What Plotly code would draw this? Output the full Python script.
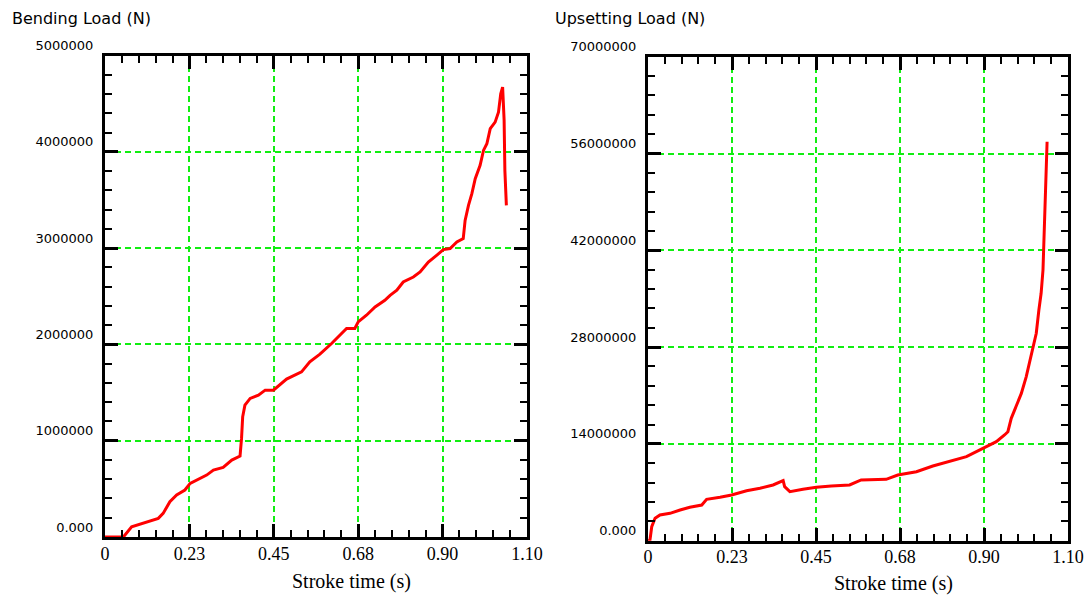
import plotly.graph_objects as go

# Bending load vs stroke time
bend_time = [0, 0.049, 0.071, 0.098, 0.12, 0.142, 0.155, 0.173, 0.191, 0.213,
             0.227, 0.249, 0.271, 0.289, 0.315, 0.338, 0.36, 0.364, 0.367, 0.373,
             0.387, 0.409, 0.427, 0.449, 0.466, 0.484, 0.524, 0.546, 0.573, 0.604,
             0.644, 0.666, 0.675, 0.697, 0.72, 0.746, 0.76, 0.778, 0.795, 0.822,
             0.84, 0.862, 0.884, 0.902, 0.92, 0.938, 0.955, 0.96, 0.969, 0.978,
             0.987, 1.0, 1.009, 1.018, 1.027, 1.04, 1.049, 1.055, 1.06, 1.064,
             1.066, 1.07]
bend_load = [0, 0, 107e3, 142e3, 166e3, 194e3, 245e3, 366e3, 436e3, 488e3,
             557e3, 598e3, 643e3, 695e3, 723e3, 799e3, 840e3, 1024e3, 1248e3, 1369e3,
             1439e3, 1473e3, 1525e3, 1525e3, 1577e3, 1640e3, 1715e3, 1819e3, 1898e3, 2009e3,
             2165e3, 2165e3, 2234e3, 2303e3, 2389e3, 2458e3, 2510e3, 2562e3, 2648e3, 2700e3,
             2752e3, 2856e3, 2925e3, 2984e3, 2995e3, 3063e3, 3098e3, 3288e3, 3444e3, 3565e3,
             3721e3, 3859e3, 4014e3, 4084e3, 4240e3, 4308e3, 4412e3, 4603e3, 4671e3, 4326e3,
             3807e3, 3444e3]

# Upsetting load vs stroke time
upset_time = [0, 0.005, 0.01, 0.019, 0.032, 0.059, 0.086, 0.112, 0.144, 0.157,
              0.193, 0.224, 0.264, 0.3, 0.335, 0.362, 0.366, 0.38, 0.415, 0.451,
              0.491, 0.54, 0.571, 0.638, 0.669, 0.719, 0.763, 0.808, 0.853, 0.897,
              0.933, 0.955, 0.964, 0.973, 0.986, 1.0, 1.013, 1.022, 1.031, 1.04,
              1.047, 1.053, 1.058, 1.062, 1.065, 1.069]
upset_load = [0, 0, 2.02e6, 3.24e6, 3.72e6, 3.96e6, 4.44e6, 4.83e6, 5.16e6, 5.99e6,
              6.28e6, 6.61e6, 7.23e6, 7.58e6, 8.06e6, 8.68e6, 7.81e6, 7.09e6, 7.43e6, 7.72e6,
              7.91e6, 8.06e6, 8.78e6, 8.88e6, 9.5e6, 9.98e6, 10.8e6, 11.43e6, 12.15e6, 13.36e6,
              14.32e6, 15.29e6, 15.76e6, 17.7e6, 19.38e6, 21.3e6, 23.7e6, 25.66e6, 28.06e6, 30.0e6,
              33.37e6, 35.78e6, 39.15e6, 45.18e6, 52.4e6, 57.7e6]

# Axis ticks
time_ticks = [0, 0.225, 0.45, 0.675, 0.9, 1.125]
time_labels = ["0", "0.23", "0.45", "0.68", "0.90", "1.10"]
bend_ticks = [0, 1e6, 2e6, 3e6, 4e6, 5e6]
bend_labels = ["0.000", "1000000", "2000000", "3000000", "4000000", "5000000"]
upset_ticks = [0, 14e6, 28e6, 42e6, 56e6, 70e6]
upset_labels = ["0.000", "14000000", "28000000", "42000000", "56000000", "70000000"]

W, H = 1090, 599
GRID = "#11EE11"

fig = go.Figure()
fig.add_trace(go.Scatter(x=bend_time, y=bend_load, mode="lines",
                         line=dict(color="#FF0000", width=3), xaxis="x", yaxis="y",
                         showlegend=False))
fig.add_trace(go.Scatter(x=upset_time, y=upset_load, mode="lines",
                         line=dict(color="#FF0000", width=3), xaxis="x2", yaxis="y2",
                         showlegend=False))


def xaxis_style(domain, anchor):
    return dict(
        domain=domain, anchor=anchor, range=[0, 1.125], automargin=False,
        tickmode="array", tickvals=time_ticks, ticktext=time_labels,
        ticks="inside", ticklen=13, tickwidth=3, tickcolor="black",
        minor=dict(ticks="inside", ticklen=7, tickwidth=2, tickcolor="black",
                   tick0=0, dtick=0.045, showgrid=False),
        showline=True, linewidth=3, linecolor="black", mirror="allticks",
        showgrid=True, gridcolor=GRID, gridwidth=1.5, griddash="6px,4px",
        zeroline=False,
        tickfont=dict(family="Liberation Serif", size=18, color="black"),
        ticklabelstandoff=-2,
    )


def yaxis_style(domain, anchor, rng, vals, labels, minor_step):
    return dict(
        domain=domain, anchor=anchor, range=rng, automargin=False,
        tickmode="array", tickvals=vals, ticktext=labels,
        ticks="inside", ticklen=13, tickwidth=3, tickcolor="black",
        minor=dict(ticks="inside", ticklen=7, tickwidth=2, tickcolor="black",
                   tick0=0, dtick=minor_step, showgrid=False),
        showline=True, linewidth=3, linecolor="black", mirror="allticks",
        showgrid=True, gridcolor=GRID, gridwidth=1.5, griddash="6px,4px",
        zeroline=False,
        tickfont=dict(family="DejaVu Sans", size=13, color="black"),
        ticklabelshift=-10, ticklabelstandoff=6,
    )


fig.update_layout(
    width=W, height=H, autosize=False,
    margin=dict(l=0, r=0, t=0, b=0, autoexpand=False),
    paper_bgcolor="white", plot_bgcolor="white",
    xaxis=xaxis_style([105 / W, 527 / W], "y"),
    yaxis=yaxis_style([1 - 537 / H, 1 - 55.5 / H], "x", [0, 5e6],
                      bend_ticks, bend_labels, 2e5),
    xaxis2=xaxis_style([648 / W, 1068 / W], "y2"),
    yaxis2=yaxis_style([1 - 540.7 / H, 1 - 56.7 / H], "x2", [0, 7e7],
                       upset_ticks, upset_labels, 2.8e6),
)

title_font = dict(family="DejaVu Sans", size=16, color="black")
axis_title_font = dict(family="Liberation Serif", size=20, color="black")
fig.add_annotation(text="Bending Load (N)", x=10 / W, y=1 - 19 / H, xref="paper", yref="paper",
                   xanchor="left", yanchor="middle", showarrow=False, font=title_font)
fig.add_annotation(text="Upsetting Load (N)", x=553 / W, y=1 - 19 / H, xref="paper", yref="paper",
                   xanchor="left", yanchor="middle", showarrow=False, font=title_font)
fig.add_annotation(text="Stroke time (s)", x=351 / W, y=1 - 581 / H, xref="paper", yref="paper",
                   xanchor="center", yanchor="middle", showarrow=False, font=axis_title_font)
fig.add_annotation(text="Stroke time (s)", x=893 / W, y=1 - 583 / H, xref="paper", yref="paper",
                   xanchor="center", yanchor="middle", showarrow=False, font=axis_title_font)

fig.write_html("out.html")
